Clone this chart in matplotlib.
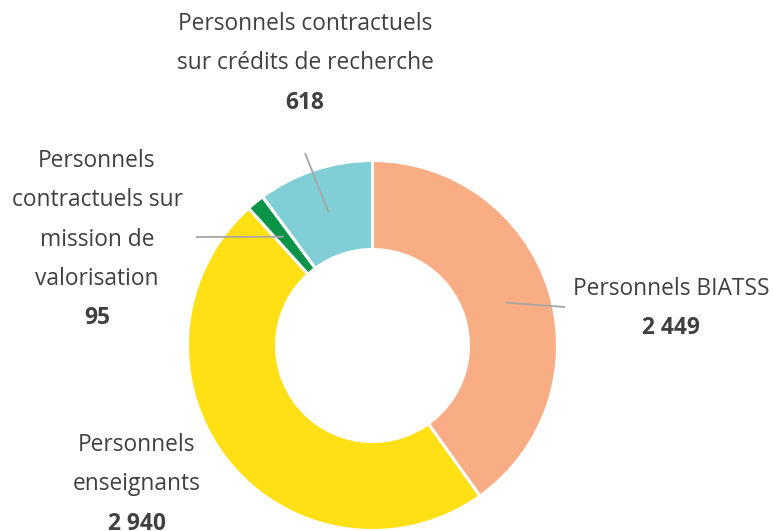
import numpy as np
import matplotlib
matplotlib.use("Agg")
import matplotlib.pyplot as plt

categories = ["Personnels BIATSS", "Personnels enseignants",
              "Personnels contractuels sur mission de valorisation",
              "Personnels contractuels sur crédits de recherche"]
values = [2449, 2940, 95, 618]
value_labels = ["2 449", "2 940", "95", "618"]
label_lines = [["Personnels BIATSS"],
               ["Personnels", "enseignants"],
               ["Personnels", "contractuels sur", "mission de", "valorisation"],
               ["Personnels contractuels", "sur crédits de recherche"]]
colors = ["#F9AD84", "#FFE014", "#0B9447", "#80CFD6"]

W, H = 773, 531
fig = plt.figure(figsize=(W / 100, H / 100), dpi=100)
ax = fig.add_axes([0, 0, 1, 1])
ax.set_xlim(0, W)
ax.set_ylim(0, H)
ax.set_aspect("equal")
ax.axis("off")

cx, cy = 372.5, H - 345.5
R = 185
ring = 89

wedges, _ = ax.pie(values, colors=colors, startangle=90, counterclock=False,
                   radius=R, center=(cx, cy),
                   wedgeprops=dict(width=ring, edgecolor="white", linewidth=2.2))
ax.set_xlim(0, W)
ax.set_ylim(0, H)

plt.rcParams["font.family"] = ["Open Sans", "DejaVu Sans"]
txt_color = "#404040"
fs = 16.4
line_h = 39.3

# label block anchor: (x center, y of first line in px from top)
anchors = [(671, 289), (137, 445), (97, 161), (305, 24)]
# leader line end points (px from top)
line_ends = [(565, 307), None, (196, 237), (305, 153)]

for i, (lines, (lx, ly)) in enumerate(zip(label_lines, anchors)):
    for j, t in enumerate(lines):
        ax.text(lx, H - (ly + j * line_h), t, ha="center", va="center",
                fontsize=fs, color=txt_color)
    ax.text(lx, H - (ly + len(lines) * line_h), value_labels[i], ha="center",
            va="center", fontsize=fs, color=txt_color, fontweight="bold")

mid_r = R - ring / 2
for w, end in zip(wedges, line_ends):
    if end is None:
        continue
    ang = np.deg2rad((w.theta1 + w.theta2) / 2)
    sx, sy = cx + mid_r * np.cos(ang), cy + mid_r * np.sin(ang)
    ax.plot([sx, end[0]], [sy, H - end[1]], color="#A6A6A6", lw=1.3,
            solid_capstyle="butt", zorder=5)

fig.savefig("out.png", dpi=100, facecolor="white")
